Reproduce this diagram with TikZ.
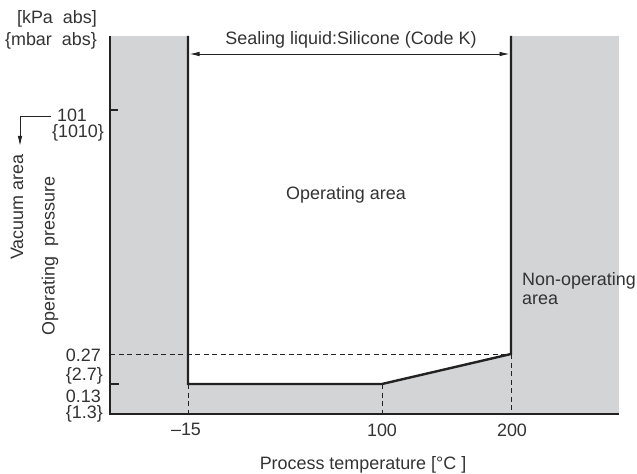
\documentclass[tikz,border=0pt]{standalone}
\usepackage{fontspec}
\setmainfont{Liberation Sans}
\usetikzlibrary{arrows.meta}
\definecolor{areagray}{HTML}{D3D4D6}
\definecolor{ink}{HTML}{333333}
\definecolor{lineink}{HTML}{222222}
\begin{document}
\begin{tikzpicture}[x=1bp,y=-1bp,
  lbl/.style={font=\fontsize{18}{20}\selectfont, text=ink, inner sep=0pt},
  boundary/.style={draw=lineink, line width=2.4bp, line join=miter},
  axisline/.style={draw=lineink, line width=1.1bp},
  guide/.style={draw=lineink, line width=0.9bp, dash pattern=on 5bp off 3.5bp},
  tip/.style={-{Latex[length=10bp,width=4.5bp]}},
  dtip/.style={{Latex[length=10bp,width=4.5bp]}-{Latex[length=10bp,width=4.5bp]}}]
\useasboundingbox (0,0) rectangle (637,474);
% key coordinates
\coordinate (gTL) at (110,36);
\coordinate (gBR) at (619,414);
\coordinate (oTL) at (188,36);
\coordinate (oBL) at (188,384);
\coordinate (oBM) at (382,384);
\coordinate (oR27) at (511,354);
\coordinate (oTR) at (511,36);
\coordinate (yTop) at (110,36);
\coordinate (yOrg) at (110,414);
\coordinate (xEnd) at (619,414);
\coordinate (y27) at (110,354);
\coordinate (y101) at (110,110);
\coordinate (t101) at (118,110);
\coordinate (y13) at (110,384);
\coordinate (t13) at (119,384);
\coordinate (x15) at (188,414);
\coordinate (x100) at (382,414);
\coordinate (x200) at (511,414);
\coordinate (aL) at (189.5,54);
\coordinate (aR) at (509.5,54);
\coordinate (vA) at (51,116);
\coordinate (vB) at (20,116);
\coordinate (vC) at (20,146);
% areas
\fill[areagray] (gTL) rectangle (gBR);
\fill[white] (oTL) -- (oTR) -- (oR27) -- (oBM) -- (oBL) -- cycle;
% guides
\draw[guide] (y27) -- (oR27);
\draw[guide] (oBL) -- (x15);
\draw[guide] (oBM) -- (x100);
\draw[guide] (oR27) -- (x200);
% axes and ticks
\draw[axisline] (yTop) -- (yOrg) -- (xEnd);
\draw[axisline] (y101) -- (t101);
\draw[axisline] (y13) -- (t13);
% boundary
\draw[boundary] (oTL) -- (oBL) -- (oBM) -- (oR27) -- (oTR);
% arrows
\draw[dtip, line width=0.9bp, draw=lineink] (aL) -- (aR);
\draw[tip, line width=0.9bp, draw=lineink] (vA) -- (vB) -- (vC);
% labels
\node[lbl, anchor=east] (ukpa) at (97,19) {[kPa\ \ abs]};
\node[lbl, anchor=east] (umbar) at (97,41) {\{mbar\ \ abs\}};
\node[lbl] (l101) at (72,115) {101};
\node[lbl] (l1010) at (78,133) {\{1010\}};
\node[lbl, anchor=east] (l027) at (101,355.5) {0.27};
\node[lbl, anchor=east] (l27) at (103,376) {\{2.7\}};
\node[lbl, anchor=east] (l013) at (101,396) {0.13};
\node[lbl, anchor=east] (l13) at (103,414) {\{1.3\}};
\node[lbl] (lm15) at (186,429) {\textendash15};
\node[lbl] (l100) at (382,430) {100};
\node[lbl] (l200) at (512,430) {200};
\node[lbl] (xlab) at (363,465) {Process temperature [°C ]};
\node[lbl] (oparea) at (346,195) {Operating area};
\node[lbl, anchor=base west] (nonop) at (522,286) {Non-operating};
\node[lbl, anchor=base west] (nonop2) at (522,305) {area};
\node[lbl] (seal) at (351,40) {Sealing liquid:Silicone (Code K)};
\node[lbl, rotate=90] (vac) at (17,207) {Vacuum area};
\node[lbl, rotate=90] (oppr) at (50,256) {Operating\ \ pressure};
\end{tikzpicture}
\end{document}
